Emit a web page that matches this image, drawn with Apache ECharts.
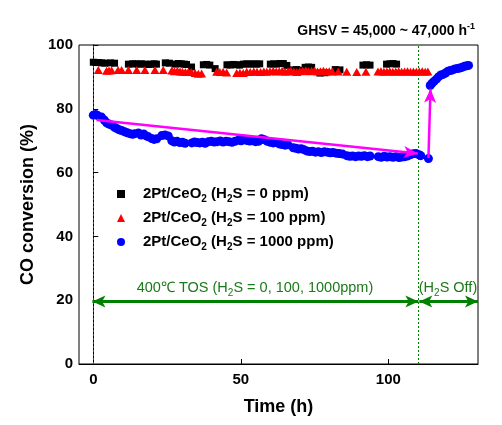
<!DOCTYPE html>
<html><head><meta charset="utf-8">
<script src="https://cdn.jsdelivr.net/npm/echarts@6/dist/echarts.min.js"></script>
<style>html,body{margin:0;padding:0;background:#fff}#c{width:502px;height:425px}</style>
</head><body><div id="c"></div>
<script>
// ---- data (time h, CO conversion %) ----
const black = [[0.0,94.6],[0.9,94.5],[1.8,94.5],[2.9,94.4],[3.9,94.3],[5.8,94.4],[7.2,94.3],[11.9,94.0],[13.3,94.1],[14.3,94.1],[15.3,94.0],[16.3,94.1],[17.6,94.0],[18.6,93.9],[19.6,94.0],[20.6,94.1],[21.4,94.0],[24.4,94.4],[25.8,94.3],[27.8,94.0],[28.8,94.2],[29.8,94.1],[30.8,94.0],[31.6,93.9],[33.3,93.1],[37.3,93.8],[38.4,93.9],[39.5,93.7],[41.3,92.6],[45.3,93.8],[46.4,93.7],[47.5,93.9],[48.6,93.8],[49.6,93.7],[50.9,94.0],[52.0,94.1],[53.1,94.0],[54.2,94.1],[55.3,94.0],[56.4,94.1],[60.0,94.0],[61.1,94.1],[62.2,94.0],[63.3,94.2],[64.4,94.2],[65.6,93.6],[67.8,92.2],[68.9,92.3],[70.0,92.1],[71.8,93.0],[72.9,93.1],[74.0,93.0],[76.8,91.2],[78.5,91.3],[82.0,92.3],[83.6,92.2],[91.4,93.7],[92.6,93.8],[93.8,93.7],[99.4,94.0],[100.5,94.1],[101.6,94.2],[102.8,94.0]];
const red = [[1.7,92.2],[4.5,91.9],[5.3,92.0],[6.2,92.1],[8.4,92.2],[9.6,92.2],[11.9,92.2],[14.7,92.2],[17.5,92.2],[20.9,92.2],[23.7,92.2],[26.6,92.0],[27.5,91.8],[28.5,91.9],[29.4,91.7],[30.2,91.6],[31.2,91.5],[32.2,91.6],[33.2,91.5],[34.5,91.2],[35.6,91.0],[36.7,91.1],[41.8,91.6],[42.9,91.5],[44.0,91.6],[45.2,91.4],[48.6,91.2],[49.7,91.3],[50.8,91.2],[52.0,91.6],[53.2,91.5],[54.4,91.7],[55.5,91.6],[56.7,91.5],[57.8,91.7],[58.8,91.6],[59.9,91.8],[61.0,91.9],[62.0,91.7],[63.0,91.8],[64.0,91.9],[65.0,91.6],[66.0,91.8],[67.0,92.0],[68.0,91.7],[69.0,91.5],[70.0,91.8],[71.0,91.9],[72.0,92.1],[73.0,91.8],[74.0,91.9],[75.0,92.0],[76.0,91.7],[77.0,91.8],[78.0,91.9],[79.0,91.7],[80.0,91.8],[81.0,91.7],[83.0,91.7],[85.9,91.6],[89.3,91.5],[92.4,91.6],[96.5,91.7],[97.5,91.8],[98.5,91.6],[99.5,91.7],[100.5,91.8],[101.5,91.6],[102.5,91.7],[103.5,91.8],[104.5,91.6],[105.5,91.7],[106.5,91.8],[107.5,91.6],[108.5,91.7],[109.5,91.6],[110.5,91.7],[111.5,91.8],[112.5,91.6],[113.4,91.7],[118.6,91.3]];
const blue = [[0,78.0],[0.8,78.2],[1.6,77.8],[2.8,77.4],[3.7,76.5],[4.5,75.6],[5.3,75.2],[6.2,74.9],[7.2,74.2],[8.0,73.8],[8.8,73.4],[9.6,73.2],[10.6,72.8],[11.5,72.5],[12.4,72.2],[13.3,72.0],[14.1,72.2],[15.3,72.4],[16.2,71.8],[17.1,72.1],[17.9,71.5],[18.7,71.2],[19.8,70.7],[20.6,70.4],[21.5,70.6],[23.2,71.6],[24.3,71.8],[25.4,71.5],[26.6,70.0],[27.5,69.6],[28.4,69.8],[29.3,69.4],[30.2,69.5],[31.1,69.2],[33.4,69.3],[34.3,69.6],[35.2,69.4],[36.1,69.3],[37.0,69.5],[37.9,69.2],[39.0,69.7],[40.0,69.8],[41.0,69.6],[42.0,69.7],[43.0,69.9],[44.0,69.6],[45.0,69.8],[46.0,69.7],[47.0,69.5],[48.0,69.8],[49.2,70.2],[50.1,70.0],[51.0,70.3],[52.0,70.1],[53.0,69.9],[54.0,70.0],[55.0,69.7],[56.0,69.8],[57.0,70.6],[58.0,70.3],[59.0,69.8],[60.0,69.5],[61.0,69.3],[62.0,69.4],[63.0,69.0],[64.0,68.8],[65.0,68.6],[66.0,68.7],[67.8,67.8],[68.7,67.6],[69.6,67.4],[70.5,67.5],[71.4,67.2],[72.3,66.8],[73.3,66.6],[74.3,66.7],[75.3,66.4],[76.3,66.5],[77.3,66.3],[78.3,66.5],[79.3,66.4],[80.3,66.2],[81.3,66.3],[82.3,66.1],[83.3,66.0],[84.5,65.8],[85.9,65.3],[86.9,65.1],[87.9,65.2],[88.9,65.0],[89.9,65.2],[90.9,65.1],[91.9,65.3],[92.9,65.0],[93.8,65.2],[96.6,65.0],[97.6,64.8],[98.6,65.1],[99.6,64.9],[100.6,65.0],[101.6,64.8],[102.6,65.0],[103.6,64.7],[104.6,64.9],[105.6,65.0],[106.4,65.2],[107.4,65.6],[108.4,65.9],[109.4,66.0],[110.4,65.6],[111.0,65.3],[113.6,64.4],[114.2,87.3],[114.8,88.0],[115.5,88.6],[116.3,89.3],[117.0,90.0],[117.8,90.6],[118.6,90.8],[119.4,91.2],[120.2,91.8],[121.0,92.0],[121.8,92.2],[122.6,92.5],[123.4,92.6],[124.2,92.8],[125.0,93.0],[125.8,93.3],[126.6,93.5],[127.2,93.6]];
const seriesNames = ['0 ppm', '100 ppm', '1000 ppm'];
const xTicks = [0, 50, 100];
const xMin = -4.85, xMax = 130.4;
const yMin = 0, yMax = 100, yStep = 20;
const h2sOffTime = 110.2;
const trendArrow = [[1.1, 76.5], [110.0, 66.0]];
const recoveryArrow = [[113.6, 64.6], [114.3, 86.3]];
const tosArrow = [[-0.3, 19.6], [110.2, 19.6]];
const offArrow = [[110.5, 19.6], [130.4, 19.6]];

const FONT = 'Liberation Sans, Arial, sans-serif';
const chart = echarts.init(document.getElementById('c'), null, {renderer: 'canvas'});
const legendRich = {
  m: {fontFamily: FONT, fontWeight: 'bold', fontSize: 15, color: '#000', lineHeight: 16},
  s: {fontFamily: FONT, fontWeight: 'bold', fontSize: 10, color: '#000', lineHeight: 10, padding: [10, 0, 0, 0]}
};
function line(a, b) { return [{coord: a}, {coord: b}]; }

chart.setOption({
  animation: false,
  backgroundColor: '#fff',
  grid: {left: 79, top: 45, right: 24, bottom: 61, show: true, borderColor: '#000', borderWidth: 1},
  xAxis: {
    type: 'value', min: xMin, max: xMax,
    name: 'Time (h)', nameLocation: 'middle', nameGap: 34,
    nameTextStyle: {fontFamily: FONT, fontWeight: 'bold', fontSize: 18, color: '#000'},
    axisLine: {lineStyle: {color: '#000', width: 1}},
    axisTick: {inside: true, length: 5, customValues: xTicks, lineStyle: {color: '#000'}},
    axisLabel: {customValues: xTicks, fontFamily: FONT, fontWeight: 'bold', fontSize: 15, color: '#000', margin: 8},
    splitLine: {show: false}
  },
  yAxis: {
    type: 'value', min: yMin, max: yMax, interval: yStep,
    name: 'CO conversion (%)', nameLocation: 'middle', nameGap: 42, nameRotate: 90,
    nameTextStyle: {fontFamily: FONT, fontWeight: 'bold', fontSize: 18, color: '#000'},
    axisLine: {show: true, lineStyle: {color: '#000', width: 1}},
    axisTick: {show: true, inside: true, length: 5, lineStyle: {color: '#000'}},
    axisLabel: {fontFamily: FONT, fontWeight: 'bold', fontSize: 15, color: '#000', margin: 6},
    splitLine: {show: false}
  },
  legend: {
    data: seriesNames, orient: 'vertical', left: 112, top: 179, itemGap: 4,
    itemWidth: 8, itemHeight: 8,
    formatter: n => '{m|2Pt/CeO}{s|2}{m| (H}{s|2}{m|S = ' + n + ')}',
    textStyle: {rich: legendRich, padding: [0, 0, 0, 13]}
  },
  graphic: [
    {type: 'text', x: 475, y: 31, style: {
      text: '{m|GHSV = 45,000 ~ 47,000 h}{p|-1}', align: 'right', verticalAlign: 'middle',
      rich: {m: {fontFamily: FONT, fontWeight: 'bold', fontSize: 14, fill: '#000', lineHeight: 16},
             p: {fontFamily: FONT, fontWeight: 'bold', fontSize: 9, fill: '#000', lineHeight: 9, padding: [0, 0, 8, 0]}}}},
    {type: 'text', x: 255, y: 288, style: {
      text: '{m|400℃ TOS (H}{s|2}{m|S = 0, 100, 1000ppm)}', align: 'center', verticalAlign: 'middle',
      rich: {m: {fontFamily: FONT, fontSize: 14.5, fill: '#1a7a1a', lineHeight: 16},
             s: {fontFamily: FONT, fontSize: 10, fill: '#1a7a1a', lineHeight: 10, padding: [10, 0, 0, 0]}}}},
    {type: 'text', x: 448, y: 288, style: {
      text: '{m|(H}{s|2}{m|S Off)}', align: 'center', verticalAlign: 'middle',
      rich: {m: {fontFamily: FONT, fontSize: 14.5, fill: '#1a7a1a', lineHeight: 16},
             s: {fontFamily: FONT, fontSize: 10, fill: '#1a7a1a', lineHeight: 10, padding: [10, 0, 0, 0]}}}}
  ],
  series: [
    {name: seriesNames[0], type: 'scatter', data: black, symbol: 'rect', symbolSize: 7,
     itemStyle: {color: '#000', opacity: 1}, z: 2,
     markLine: {silent: true, symbol: 'none', label: {show: false}, z: 1,
       lineStyle: {color: '#007a00', type: [2, 2], width: 1},
       data: [{xAxis: 0}, {xAxis: h2sOffTime}]}},
    {name: seriesNames[1], type: 'scatter', data: red, symbol: 'triangle', symbolSize: [9, 8],
     itemStyle: {color: '#ff0000', opacity: 1}, z: 3,
     markLine: {silent: true, symbol: ['arrow', 'arrow'], symbolSize: [9, 13], label: {show: false},
       lineStyle: {color: '#008000', type: 'solid', width: 3},
       data: [line(tosArrow[0], tosArrow[1]), line(offArrow[0], offArrow[1])]}},
    {name: seriesNames[2], type: 'scatter', data: blue, symbol: 'circle', symbolSize: 9,
     itemStyle: {color: '#0000ff', opacity: 1}, z: 4,
     markLine: {silent: true, symbol: ['none', 'arrow'], symbolSize: [9, 14], label: {show: false}, z: 6,
       lineStyle: {color: '#ff00ff', type: 'solid', width: 2.5},
       data: [line(trendArrow[0], trendArrow[1]), line(recoveryArrow[0], recoveryArrow[1])]}}
  ]
});
</script></body></html>
